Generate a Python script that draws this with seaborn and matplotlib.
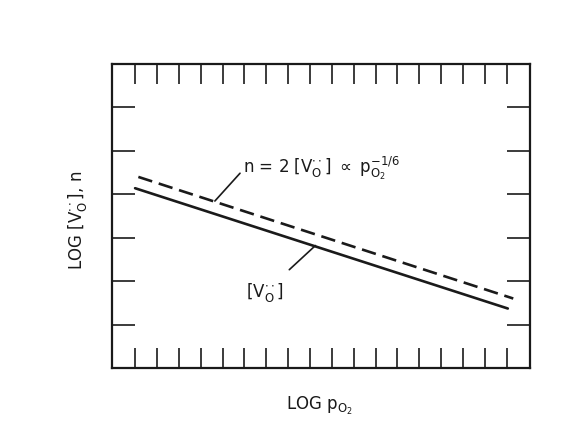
import matplotlib
matplotlib.use("Agg")
import matplotlib.pyplot as plt
import seaborn as sns
import pandas as pd

# Data (arbitrary log units)
log_po2_vo = [1.0, 18.05]
log_vo = [4.14, 1.37]
log_po2_n = [1.15, 18.3]
log_n = [4.40, 1.60]
x_ticks = list(range(1, 19))
y_ticks = list(range(1, 7))

sns.set_theme(style="white")
plt.rcParams['font.family'] = ['DejaVu Sans']
plt.rcParams['mathtext.fontset'] = 'dejavusans'

df = pd.concat([
    pd.DataFrame({"x": log_po2_vo, "y": log_vo, "s": "vo"}),
    pd.DataFrame({"x": log_po2_n, "y": log_n, "s": "n"}),
])

fig = plt.figure(figsize=(5.71, 4.41), dpi=100)
ax = fig.add_axes([0.1956, 0.1655, 0.928 - 0.1956, 0.8549 - 0.1655])

sns.lineplot(data=df, x="x", y="y", hue="s", style="s",
             palette={"vo": "#1a1a1a", "n": "#1a1a1a"},
             dashes={"vo": "", "n": (5.5, 2.6)},
             linewidth=1.9, legend=False, ax=ax)

ax.set_xlim(-0.07, 19.06)
ax.set_ylim(0, 7)
ax.set_xticks(x_ticks)
ax.set_yticks(y_ticks)
ax.tick_params(axis='x', direction='in', length=14.5, width=1.2, color='#1a1a1a',
               top=True, bottom=True, labelbottom=False, labeltop=False)
ax.tick_params(axis='y', direction='in', length=16.5, width=1.2, color='#1a1a1a',
               left=True, right=True, labelleft=False, labelright=False)
for sp in ax.spines.values():
    sp.set_visible(True)
    sp.set_linewidth(1.6)
    sp.set_color('#1a1a1a')
ax.set_xlabel("")
ax.set_ylabel("")

# Labels
fig.text(0.56, 0.08, r"LOG $\mathrm{p}_{\mathrm{O}_2}$", ha='center', va='center',
         fontsize=12, color='#1a1a1a')
fig.text(0.135, 0.5, r"LOG $\left[\mathrm{V}_{\mathrm{O}}^{\cdot\cdot}\right]$, n",
         rotation=90, ha='center', va='center', fontsize=12, color='#1a1a1a')

# Annotations with leader lines
ax.annotate(r"n = 2 $\left[\mathrm{V}_{\mathrm{O}}^{\cdot\cdot}\right]$ $\propto$ $\mathrm{p}_{\mathrm{O}_2}^{-1/6}$",
            xy=(4.65, 3.845), xycoords='data',
            xytext=(5.95, 4.6), textcoords='data',
            ha='left', va='center', fontsize=12, color='#1a1a1a',
            arrowprops=dict(arrowstyle='-', color='#1a1a1a', lw=1.2,
                            shrinkA=0, shrinkB=0, relpos=(0, 0.45)))
ax.annotate(r"$\left[\mathrm{V}_{\mathrm{O}}^{\cdot\cdot}\right]$",
            xy=(9.25, 2.82), xycoords='data',
            xytext=(6.95, 1.75), textcoords='data',
            ha='center', va='center', fontsize=12, color='#1a1a1a',
            arrowprops=dict(arrowstyle='-', color='#1a1a1a', lw=1.2,
                            shrinkA=8, shrinkB=0))

fig.savefig("out.png", dpi=100)
